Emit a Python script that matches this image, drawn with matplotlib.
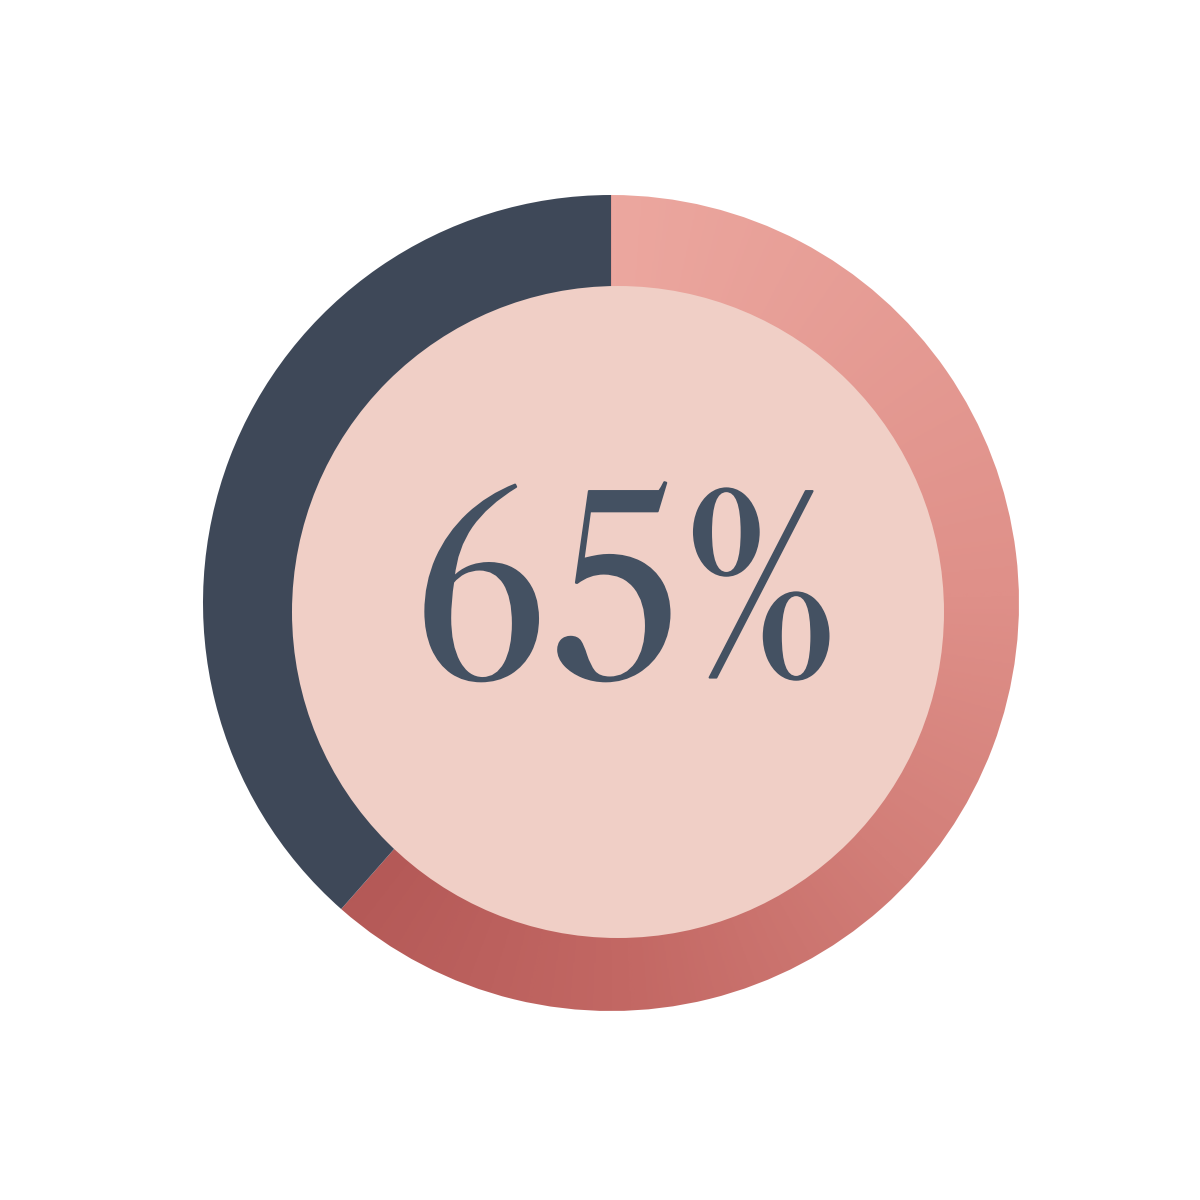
import numpy as np
import matplotlib
matplotlib.use("Agg")
import matplotlib.pyplot as plt
import matplotlib.patheffects as pe
from matplotlib import font_manager
from matplotlib.patches import Wedge, Circle
from matplotlib.colors import LinearSegmentedColormap

# values (share of the ring, in percent)
segments = ["filled", "rest"]
shares = [61.5, 38.5]
label = "65%"

dark = "#3E4858"
inner_col = "#F0CFC6"
text_col = "#445162"
grad_stops = [(0.0, "#ECA79F"), (0.4, "#DF9089"), (0.6, "#D27E78"),
              (0.8, "#C36864"), (1.0, "#B45957")]

installed = set(f.name for f in font_manager.fontManager.ttflist)
serif_pick = [f for f in ["Libre Caslon Display", "Bodoni Moda", "Liberation Serif", "DejaVu Serif"]
              if f in installed] or ["serif"]

fig = plt.figure(figsize=(12, 12), dpi=100)
ax = fig.add_axes([0, 0, 1, 1])
ax.set_xlim(0, 1200)
ax.set_ylim(0, 1200)
ax.set_aspect("equal")
ax.axis("off")

cx, cy, R = 611, 597, 408
icx, icy, r = 618, 588, 326

# ring goes clockwise from 12 o'clock
total = sum(shares)
a_fill = shares[0] / total * 360
fill_wedge = Wedge((cx, cy), R, 90 - a_fill, 90, facecolor="none", edgecolor="none")
rest_wedge = Wedge((cx, cy), R, 90, 450 - a_fill, facecolor=dark, edgecolor="none", zorder=2)
ax.add_patch(fill_wedge)
ax.add_patch(rest_wedge)

# sweep gradient along the filled arc: light at the start, dark at the end
n = 600
gx, gy = np.meshgrid(np.linspace(-R, R, n), np.linspace(-R, R, n))
cw = np.mod(90 - np.degrees(np.arctan2(gy, gx)), 360)
t = np.clip(cw / a_fill, 0, 1)
cmap = LinearSegmentedColormap.from_list("sweep", grad_stops)
im = ax.imshow(t, cmap=cmap, vmin=0, vmax=1, origin="lower",
               extent=[cx - R, cx + R, cy - R, cy + R], interpolation="bilinear", zorder=1)
im.set_clip_path(fill_wedge)

ax.add_patch(Circle((icx, icy), r, facecolor=inner_col, edgecolor="none", zorder=3))

txt = ax.text(625, 523, label, ha="center", va="baseline", color=text_col,
              fontsize=194, family=serif_pick, zorder=4)
txt.set_path_effects([pe.withStroke(linewidth=1.5, foreground=text_col)])

fig.savefig("out.png", dpi=100)
